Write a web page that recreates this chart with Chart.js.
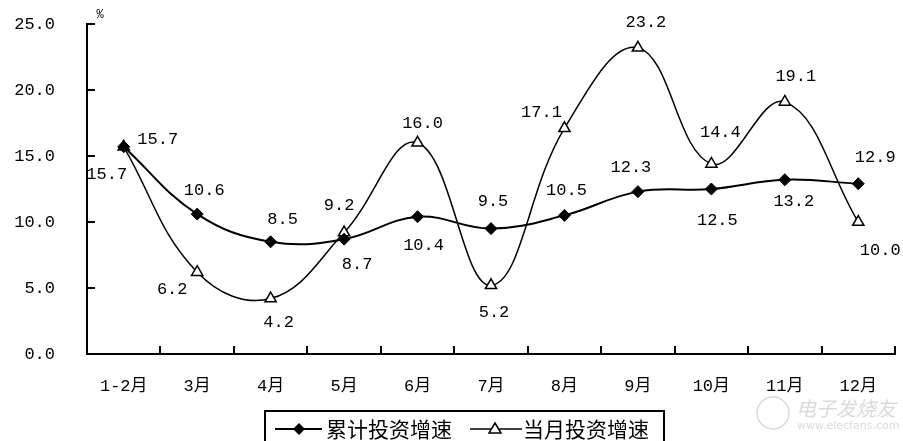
<!DOCTYPE html>
<html>
<head>
<meta charset="utf-8">
<script src="https://cdn.jsdelivr.net/npm/chart.js@4"></script>
<style>
html,body{margin:0;padding:0;background:#fff;}
#wrap{width:903px;height:441px;position:relative;}
</style>
</head>
<body>
<div id="wrap"><canvas id="c" width="903" height="441"></canvas></div>
<script>
const categories = ['1-2月','3月','4月','5月','6月','7月','8月','9月','10月','11月','12月'];
const cumulative = [15.7, 10.6, 8.5, 8.7, 10.4, 9.5, 10.5, 12.3, 12.5, 13.2, 12.9];
const monthly = [15.7, 6.2, 4.2, 9.2, 16.0, 5.2, 17.1, 23.2, 14.4, 19.1, 10.0];
const seriesNames = ['累计投资增速', '当月投资增速'];
const yTicks = [0, 5, 10, 15, 20, 25];
const unitLabel = '%';

// label offsets (style only), in px relative to each point
const cumOffsets = [[-17,28],[7,-24],[12,-22],[13,25],[6,29],[2,-27],[2,-25],[-7,-24],[6,31],[9,22],[17,-26]];
const monOffsets = [[34,-7],[-25,17],[8,24],[-5,-27],[5,-19],[3,27],[-23,-16],[8,-25],[9,-31],[11,-25],[22,28]];

const MONO = '"Liberation Mono", "Noto Sans CJK SC", monospace';
const CJK = '"Noto Sans CJK SC", sans-serif';

const decor = {
  id: 'decor',
  afterDatasetsDraw(chart) {
    const ctx = chart.ctx;
    const x = chart.scales.x, y = chart.scales.y;
    const area = chart.chartArea;
    ctx.save();
    // inward tick marks
    ctx.strokeStyle = '#000';
    ctx.lineWidth = 2;
    const half = (x.getPixelForValue(1) - x.getPixelForValue(0)) / 2;
    for (let i = 0; i <= categories.length; i++) {
      const px = Math.round(x.getPixelForValue(0) - half + i * half * 2);
      ctx.beginPath(); ctx.moveTo(px, area.bottom); ctx.lineTo(px, area.bottom - 8); ctx.stroke();
    }
    yTicks.forEach(v => {
      const py = Math.round(y.getPixelForValue(v));
      ctx.beginPath(); ctx.moveTo(area.left, py); ctx.lineTo(area.left + 8, py); ctx.stroke();
    });
    // unit
    ctx.fillStyle = '#000';
    ctx.font = '12px ' + MONO;
    ctx.textAlign = 'center'; ctx.textBaseline = 'middle';
    ctx.fillText(unitLabel, area.left + 13, area.top - 9);
    // data labels
    ctx.font = '17px ' + MONO;
    const draw = (dsIndex, vals, offs) => {
      const meta = chart.getDatasetMeta(dsIndex);
      meta.data.forEach((pt, i) => {
        ctx.fillText(vals[i].toFixed(1), pt.x + offs[i][0], pt.y + offs[i][1]);
      });
    };
    draw(0, cumulative, cumOffsets);
    draw(1, monthly, monOffsets);
    // legend box
    const lx = 265, ly = 411, lw = 399, lh = 34;
    ctx.lineWidth = 2;
    ctx.strokeRect(lx, ly, lw, lh);
    const cy = 429;
    ctx.lineWidth = 2;
    ctx.beginPath(); ctx.moveTo(275, cy); ctx.lineTo(322, cy); ctx.stroke();
    ctx.beginPath(); ctx.moveTo(299, cy - 6); ctx.lineTo(305, cy); ctx.lineTo(299, cy + 6); ctx.lineTo(293, cy); ctx.closePath(); ctx.fill();
    ctx.lineWidth = 1.5;
    ctx.beginPath(); ctx.moveTo(470, cy); ctx.lineTo(522, cy); ctx.stroke();
    ctx.fillStyle = '#fff';
    ctx.beginPath(); ctx.moveTo(495, cy - 6); ctx.lineTo(501, cy + 4); ctx.lineTo(489, cy + 4); ctx.closePath(); ctx.fill(); ctx.stroke();
    ctx.fillStyle = '#000';
    ctx.font = '21px ' + CJK;
    ctx.textAlign = 'left';
    ctx.fillText(seriesNames[0], 326, cy);
    ctx.fillText(seriesNames[1], 523, cy);
    // watermark
    ctx.fillStyle = 'rgba(150,150,150,0.35)';
    ctx.strokeStyle = 'rgba(150,150,150,0.35)';
    ctx.lineWidth = 1.5;
    ctx.beginPath(); ctx.arc(773, 413, 16, 0, Math.PI * 2); ctx.stroke();
    ctx.font = 'italic 20px ' + CJK;
    ctx.fillText('电子发烧友', 796, 408);
    ctx.font = '11px "DejaVu Sans", sans-serif';
    ctx.fillText('www.elecfans.com', 797, 426);
    ctx.restore();
  }
};

new Chart(document.getElementById('c'), {
  type: 'line',
  data: {
    labels: categories,
    datasets: [
      {
        label: seriesNames[0], data: cumulative,
        borderColor: '#000', borderWidth: 2, tension: 0.4,
        pointStyle: 'rectRot', pointRadius: 6, pointBackgroundColor: '#000', pointBorderColor: '#000', pointBorderWidth: 1
      },
      {
        label: seriesNames[1], data: monthly,
        borderColor: '#000', borderWidth: 1.5, tension: 0.4,
        pointStyle: 'triangle', pointRadius: 6.5, pointBackgroundColor: '#fff', pointBorderColor: '#000', pointBorderWidth: 1.5
      }
    ]
  },
  options: {
    responsive: false,
    animation: false,
    devicePixelRatio: 1,
    layout: { padding: { top: 24, right: 8, bottom: 0, left: 0 } },
    plugins: { legend: { display: false }, tooltip: { enabled: false } },
    scales: {
      x: {
        offset: true,
        grid: { display: true, drawOnChartArea: false, drawTicks: true, tickLength: 22, tickColor: 'rgba(0,0,0,0)' },
        border: { display: true, color: '#000', width: 2 },
        ticks: { color: '#000', font: { family: MONO, size: 17 }, padding: 0, maxRotation: 0, autoSkip: false },
        afterFit: s => { s.height = 87; }
      },
      y: {
        min: 0, max: 25,
        afterBuildTicks: s => { s.ticks = yTicks.map(v => ({ value: v })); },
        grid: { display: true, drawOnChartArea: false, drawTicks: true, tickLength: 32, tickColor: 'rgba(0,0,0,0)' },
        border: { display: true, color: '#000', width: 2 },
        ticks: { color: '#000', font: { family: MONO, size: 17 }, padding: 0, callback: v => Number(v).toFixed(1) },
        afterFit: s => { s.width = 87; }
      }
    }
  },
  plugins: [decor]
});
</script>
</body>
</html>
